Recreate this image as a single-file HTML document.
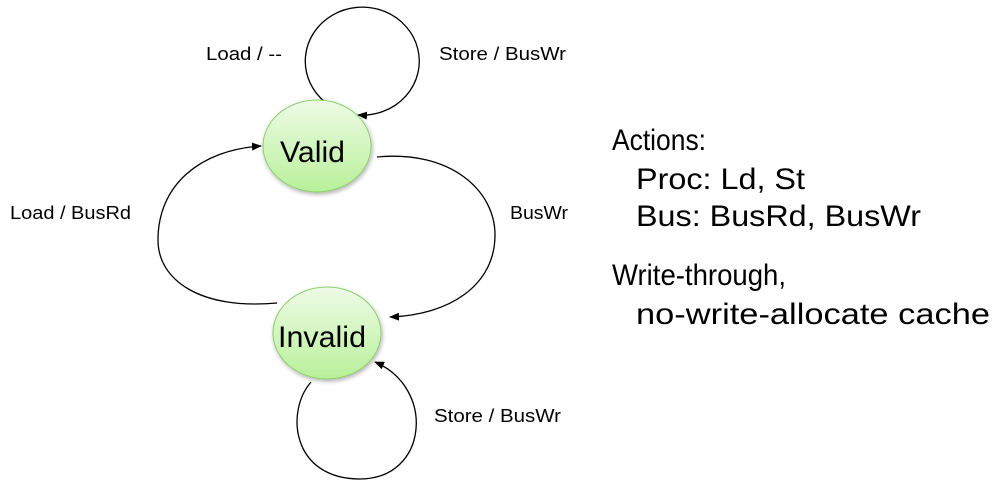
<!DOCTYPE html>
<html><head><style>
body{margin:0;width:1008px;height:489px;background:#fff;overflow:hidden;font-family:"Liberation Sans",sans-serif}
</style></head><body>
<svg width="1008" height="489" viewBox="0 0 1008 489" xmlns="http://www.w3.org/2000/svg">
<defs>
<linearGradient id="g" x1="0" y1="0" x2="0" y2="1"><stop offset="0" stop-color="#eefbe6"/><stop offset="1" stop-color="#b8f09a"/></linearGradient>
<marker id="a" markerWidth="10" markerHeight="8" refX="9" refY="4" orient="auto" markerUnits="userSpaceOnUse"><path d="M0,0 L10,4 L0,8z" fill="#000"/></marker>
<filter id="s"><feDropShadow dx="1" dy="2" stdDeviation="2" flood-opacity="0.3"/></filter>
</defs>
<g fill="none" stroke="#000" stroke-width="1.3">
<path d="M325,102 A57,54 0 1 1 358,115" marker-end="url(#a)"/>
<path d="M277,303 C200,310 158,280 158,240 C158,185 200,150 261,146" marker-end="url(#a)"/>
<path d="M377,157 C450,150 495,190 495,235 C495,285 450,315 390,317" marker-end="url(#a)"/>
<path d="M311,382 C285,412 292,479 360,479 C428,479 436,388 375,362" marker-end="url(#a)"/>
</g>
<ellipse cx="317" cy="146" rx="54" ry="46" fill="url(#g)" stroke="#8ccf6a" stroke-width="1" filter="url(#s)"/>
<ellipse cx="327" cy="333" rx="54" ry="46" fill="url(#g)" stroke="#8ccf6a" stroke-width="1" filter="url(#s)"/>
<g font-size="30" fill="#000">
<text x="280" y="162" textLength="65" lengthAdjust="spacingAndGlyphs">Valid</text>
<text x="278" y="347" textLength="88" lengthAdjust="spacingAndGlyphs">Invalid</text>
</g>
<g font-size="18" fill="#000">
<text x="206" y="60" textLength="76" lengthAdjust="spacingAndGlyphs">Load / --</text>
<text x="439" y="60" textLength="127" lengthAdjust="spacingAndGlyphs">Store / BusWr</text>
<text x="10" y="219" textLength="121" lengthAdjust="spacingAndGlyphs">Load / BusRd</text>
<text x="510" y="219" textLength="58" lengthAdjust="spacingAndGlyphs">BusWr</text>
<text x="434" y="422" textLength="127" lengthAdjust="spacingAndGlyphs">Store / BusWr</text>
</g>
<g font-size="30" fill="#000">
<text x="612" y="150" textLength="94" lengthAdjust="spacingAndGlyphs">Actions:</text>
<text x="636" y="189" textLength="169" lengthAdjust="spacingAndGlyphs">Proc: Ld, St</text>
<text x="636" y="226" textLength="285" lengthAdjust="spacingAndGlyphs">Bus: BusRd, BusWr</text>
<text x="612" y="285" textLength="174" lengthAdjust="spacingAndGlyphs">Write-through,</text>
<text x="636" y="324" textLength="354" lengthAdjust="spacingAndGlyphs">no-write-allocate cache</text>
</g>
</svg>
</body></html>
